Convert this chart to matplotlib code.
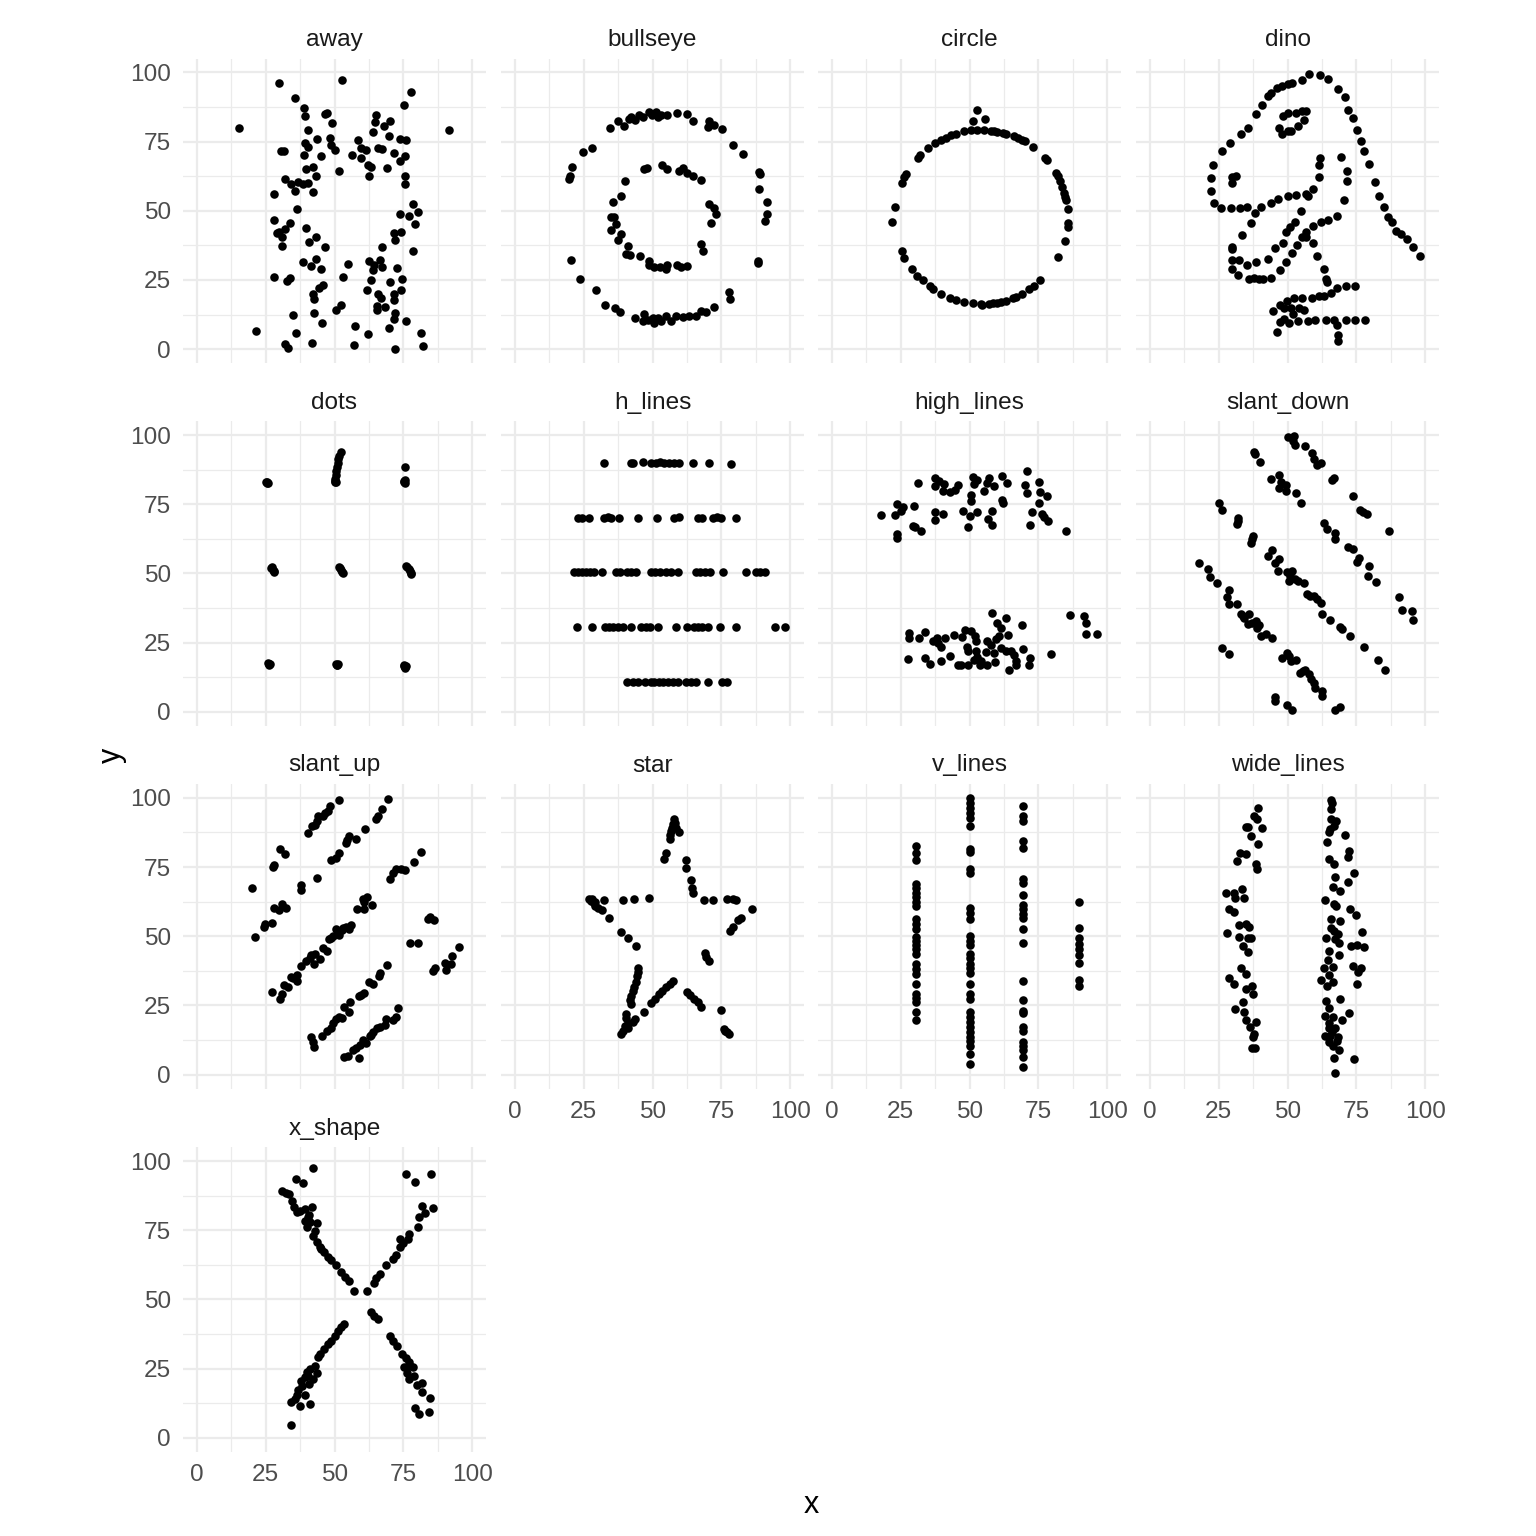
import matplotlib
matplotlib.use('Agg')
import matplotlib.pyplot as plt

plt.rcParams['font.family'] = ['Liberation Sans', 'DejaVu Sans']

panel_names = ['away', 'bullseye', 'circle', 'dino', 'dots', 'h_lines', 'high_lines',
               'slant_down', 'slant_up', 'star', 'v_lines', 'wide_lines', 'x_shape']
tick_values = [0, 25, 50, 75, 100]
tick_labels = ['0', '25', '50', '75', '100']
minor_values = [12.5, 37.5, 62.5, 87.5]

away_xy = [(29.8,96.3),(52.9,97.1),(77.8,92.9),(35.7,90.9),(75.1,88.3),(38.8,87.1),(39.3,84.3),(46.5,85.0),
    (47.2,85.3),(49.0,81.7),(64.9,84.5),(64.7,81.9),(70.0,82.5),(67.9,80.5),(15.4,79.9),(91.4,79.2),(40.3,79.1),
    (64.1,78.5),(69.7,77.0),(43.6,75.8),(48.4,76.4),(58.5,75.6),(73.6,75.8),(76.0,75.7),(39.4,74.6),(40.3,73.1),
    (48.7,73.7),(50.2,71.9),(30.7,71.5),(31.7,71.6),(59.5,72.8),(61.3,71.9),(65.8,72.5),(67.3,72.2),(38.8,70.3),
    (45.1,69.8),(56.3,70.3),(59.5,69.0),(71.5,70.9),(75.5,69.7),(73.9,67.9),(62.3,66.7),(63.1,65.9),(69.1,65.5),
    (42.1,65.9),(39.7,65.1),(51.8,64.4),(43.3,62.4),(62.5,62.4),(75.5,62.4),(75.7,59.5),(32.2,61.4),(34.3,59.5),
    (36.9,60.5),(38.5,59.5),(40.3,59.9),(35.5,57.1),(28.0,56.0),(42.3,56.6),(78.4,52.4),(36.3,50.5),(73.7,49.0),
    (76.9,48.2),(80.2,49.4),(79.2,45.2),(27.9,46.5),(34.0,45.7),(39.7,43.6),(32.0,43.4),(29.8,42.4),(29.1,41.8),
    (31.0,40.4),(71.5,41.8),(74.1,42.4),(72.1,39.4),(43.3,40.6),(40.6,38.6),(46.5,36.8),(30.8,37.3),(67.3,37.0),
    (78.5,35.5),(38.5,31.5),(43.3,32.7),(41.5,30.0),(45.2,29.1),(54.9,30.7),(62.7,31.9),(66.5,32.1),(64.3,30.4),
    (67.1,29.6),(64.1,28.5),(72.7,29.3),(27.9,26.0),(32.7,24.6),(34.0,25.6),(53.2,26.1),(63.3,25.1),(70.0,24.2),
    (74.6,25.4),(46.0,23.0),(44.5,22.0),(61.9,21.5),(65.9,19.8),(66.7,18.6),(71.5,20.1),(74.3,21.2),(42.1,19.8),
    (42.7,18.0),(71.6,17.7),(52.4,16.0),(50.6,14.1),(65.3,15.5),(65.3,14.1),(68.3,15.4),(71.9,13.0),(34.9,12.5),
    (42.7,12.9),(71.5,10.9),(76.1,10.3),(45.4,9.6),(57.3,8.2),(69.7,7.7),(21.6,6.6),(36.2,6.0),(62.1,5.6),
    (81.5,6.0),(41.8,2.4),(32.2,1.9),(33.2,0.4),(57.2,1.6),(71.9,0.0),(82.0,1.3)]

bullseye_xy = [(34.6,79.8),(37.5,82.3),(39.5,80.5),(41.5,83.3),(43.5,82.7),(45.1,84.7),(46.5,83.9),(48.6,85.5),
    (49.9,84.5),(51.3,85.7),(51.9,83.8),(53.1,84.7),(55.3,84.5),(58.8,85.3),(62.7,85.0),(64.6,82.3),(70.6,82.5),
    (70.0,80.3),(72.4,80.9),(75.1,79.7),(79.3,73.7),(82.9,70.4),(88.6,64.1),(88.8,57.7),(91.4,53.0),(91.6,49.0),
    (91.0,46.4),(88.2,31.0),(77.9,20.6),(78.1,18.2),(72.4,15.4),(69.4,13.3),(67.6,13.8),(65.8,11.8),(63.3,11.8),
    (61.2,11.5),(58.5,11.8),(56.7,10.0),(54.9,12.0),(53.1,10.0),(51.9,11.2),(50.1,11.2),(50.4,9.4),(48.3,10.6),
    (46.8,12.6),(46.5,10.3),(43.8,11.2),(38.2,13.3),(36.3,15.0),(32.9,16.0),(29.4,21.4),(23.6,25.2),(20.4,32.2),
    (19.7,61.4),(20.1,62.5),(20.9,65.9),(24.6,71.3),(28.0,72.7),(42.3,83.8),(88.4,31.8),(88.9,63.2),
    (46.8,65.0),(48.1,65.5),(53.5,66.5),(55.2,65.0),(59.7,64.4),(61.1,65.3),(62.7,63.7),(64.8,62.6),(67.6,61.1),
    (39.9,60.7),(38.7,55.5),(35.8,53.2),(70.6,52.3),(72.4,51.1),(73.2,48.7),(71.4,45.4),(34.9,47.7),(36.1,47.8),
    (36.7,45.2),(35.1,43.0),(38.5,41.6),(37.3,39.4),(67.6,38.1),(68.4,35.5),(41.1,37.3),(40.3,34.3),(41.7,34.0),
    (45.3,33.7),(48.6,31.9),(48.9,30.4),(50.7,29.5),(52.7,29.5),(54.9,29.0),(55.3,30.4),(58.9,30.4),(60.3,29.8),
    (62.5,30.2)]

circle_xy = [(52.6,86.3),(51.3,82.3),(55.7,83.3),(45.1,77.9),(48.1,78.7),(50.5,79.1),(52.9,79.3),(55.3,79.2),
    (57.7,78.9),(60.1,78.5),(63.1,77.9),(66.1,76.9),(69.1,75.7),(70.3,75.1),(73.0,73.0),(77.5,68.9),(78.1,68.3),
    (81.5,63.5),(82.1,62.6),(83.7,58.7),(84.4,56.3),(85.1,53.9),(85.7,50.6),(85.6,45.4),(85.6,44.2),(84.5,39.1),
    (82.1,33.2),(75.7,25.0),(73.3,22.8),(71.5,21.6),(69.1,20.1),(65.9,18.4),(63.1,17.5),(60.1,16.8),(57.1,16.3),
    (54.1,16.2),(51.1,16.5),(48.1,17.1),(45.1,17.8),(42.9,18.6),(39.7,19.8),(36.7,21.6),(35.5,22.8),(33.1,25.0),
    (31.0,26.6),(29.1,29.0),(26.4,33.1),(25.5,35.5),(22.0,46.0),(23.1,51.2),(25.5,60.1),(26.4,62.3),(27.0,63.1),
    (31.3,68.9),(32.2,70.1),(34.9,72.7),(37.5,74.3),(39.7,75.5),(41.5,76.3),(43.3,77.3),(82.9,60.8),(84.8,55.0),
    (62.0,78.2),(58.9,78.7),(67.5,76.3),(54.5,16.1),(58.6,16.5),(61.6,17.1),(66.8,18.9)]

dino_xy = [(55.3846,97.1795),(51.5385,96.0256),(46.1538,94.4872),(42.8205,91.4103),(40.7692,88.3333),
    (38.7179,84.8718),(35.641,79.8718),(33.0769,77.5641),(28.9744,74.4872),(26.1538,71.4103),(23.0769,66.4103),
    (22.3077,61.7949),(22.3077,57.1795),(23.3333,52.9487),(25.8974,51.0256),(29.4872,51.0256),(32.8205,51.0256),
    (35.3846,51.4103),(40.2564,51.4103),(44.1026,52.9487),(46.6667,54.1026),(50.0,55.2564),(53.0769,55.641),
    (56.6667,56.0256),(59.2308,57.9487),(61.2821,62.1795),(61.5385,66.4103),(61.7949,69.1026),(57.4359,55.2564),
    (54.8718,49.8718),(52.5641,46.0256),(48.2051,38.3333),(49.4872,42.1795),(51.0256,44.1026),(45.3846,36.4103),
    (42.8205,32.5641),(38.7179,31.4103),(35.1282,30.2564),(32.5641,32.1795),(30.0,36.7949),(33.5897,41.4103),
    (36.6667,45.641),(38.2051,49.1026),(29.7436,36.0256),(29.7436,32.1795),(30.0,29.1026),(32.0513,26.7949),
    (35.8974,25.2564),(41.0256,25.2564),(44.1026,25.641),(47.1795,28.718),(49.4872,31.4103),(51.5385,34.8718),
    (53.5897,37.5641),(55.1282,40.641),(56.6667,42.1795),(59.2308,44.4872),(62.3077,46.0256),(64.8718,46.7949),
    (67.9487,47.9487),(70.5128,53.718),(71.5385,60.641),(71.5385,64.4872),(69.4872,69.4872),(46.9231,79.8718),
    (48.2051,84.1026),(50.0,85.2564),(53.0769,85.2564),(55.3846,86.0256),(56.6667,86.0256),(56.1538,82.9487),
    (53.8462,80.641),(51.2821,78.718),(50.0,78.718),(47.9487,77.5641),(29.7436,59.8718),(29.7436,62.1795),
    (31.2821,62.5641),(57.9487,99.4872),(61.7949,99.1026),(64.8718,97.5641),(68.4615,94.1026),(70.7692,91.0256),
    (72.0513,86.4103),(73.8462,83.3333),(75.1282,79.1026),(76.6667,75.2564),(77.6923,71.4103),(79.7436,66.7949),
    (81.7949,60.2564),(83.3333,55.2564),(85.1282,51.4103),(86.4103,47.5641),(87.9487,46.0256),(89.4872,42.5641),
    (93.3333,39.8718),(95.3846,36.7949),(98.2051,33.718),(56.6667,40.641),(59.2308,38.3333),(60.7692,33.718),
    (63.0769,29.1026),(64.1026,25.2564),(64.359,24.1026),(74.359,22.9487),(71.2821,22.9487),(67.9487,22.1795),
    (65.8974,20.2564),(63.0769,19.1026),(61.2821,19.1026),(58.7179,18.3333),(55.1282,18.3333),(52.3077,18.3333),
    (49.7436,17.5641),(47.4359,16.0256),(44.8718,13.718),(48.7179,14.8718),(51.2821,14.8718),(54.1026,14.8718),
    (56.1538,14.1026),(52.0513,12.5641),(48.7179,11.0256),(47.1795,9.8718),(46.1538,6.0256),(50.5128,9.4872),
    (53.8462,10.2564),(57.4359,10.2564),(60.0,10.641),(64.1026,10.641),(66.9231,10.641),(71.2821,10.641),
    (74.359,10.641),(78.2051,10.641),(67.9487,8.718),(68.4615,5.2564),(68.2051,2.9487),(37.6923,25.7692),
    (39.4872,25.3846),(91.2821,41.5385),(50.0,95.7692),(47.9487,95.0),(44.1026,92.6923)]

dots_xy = [(25.4,82.9),(25.6,82.6),(25.3,83.1),(25.8,82.8),
    (50.0,83.3),(50.1,83.0),(50.2,84.2),(50.4,85.6),(50.6,87.0),(50.8,88.4),(51.1,89.8),(51.4,91.2),(51.8,92.6),
    (52.3,94.0),(50.6,83.1),
    (75.4,83.0),(75.5,83.6),(75.2,83.3),(75.7,88.3),(75.6,82.7),
    (27.0,51.9),(27.5,51.4),(27.9,50.8),(28.2,50.5),(27.3,52.2),
    (51.7,52.5),(52.1,51.8),(52.5,51.2),(52.9,50.5),(53.1,50.1),
    (75.9,52.6),(76.5,52.2),(77.1,51.5),(77.5,50.8),(77.8,50.2),(77.6,49.8),
    (25.9,17.5),(26.3,17.0),(26.1,17.2),(26.5,17.3),
    (50.6,17.3),(51.0,17.0),(50.8,16.8),(51.3,17.2),
    (75.3,16.9),(75.6,16.3),(75.5,15.8),(75.4,16.5),(75.8,16.7)]

h_lines_xy = [(32.3,90.0),(42.3,90.0),(42.9,89.8),(46.7,90.3),(49.5,89.9),(51.3,90.0),(52.9,90.1),(54.3,89.9),
    (56.1,90.0),(57.9,89.9),(59.7,90.0),(64.7,90.0),(70.6,89.9),(78.4,89.7),
    (22.8,70.2),(24.3,70.2),(26.9,70.1),(32.5,70.1),(33.9,70.3),(35.1,70.2),(37.7,70.2),(44.7,70.2),(51.7,70.2),
    (57.9,70.1),(59.7,70.3),(66.4,70.2),(67.8,70.1),(72.0,70.2),(73.3,70.3),(74.8,70.2),(80.2,70.2),
    (21.6,50.4),(22.8,50.4),(24.3,50.4),(25.7,50.4),(27.3,50.4),(28.8,50.4),(31.7,50.4),(36.9,50.4),(38.1,50.4),
    (40.7,50.4),(42.3,50.4),(44.1,50.4),(49.5,50.4),(51.0,50.4),(52.8,50.4),(54.9,50.4),(56.7,50.4),(59.4,50.4),
    (65.7,50.4),(67.3,50.4),(69.0,50.4),(70.7,50.4),(75.7,50.4),(84.1,50.4),(87.4,50.4),(88.9,50.4),(91.0,50.4),
    (22.6,30.5),(27.9,30.5),(32.9,30.5),(34.1,30.5),(35.7,30.5),(37.5,30.5),(39.3,30.5),(42.3,30.5),(45.9,30.5),
    (47.7,30.5),(49.2,30.5),(51.9,30.5),(58.5,30.5),(62.5,30.5),(64.9,30.5),(66.4,30.5),(67.8,30.5),(70.0,30.5),
    (74.4,30.5),(80.3,30.5),(94.6,30.5),(98.0,30.5),
    (40.9,10.7),(42.9,10.7),(44.9,10.7),(47.1,10.7),(49.3,10.7),(50.7,10.7),(52.2,10.7),(53.7,10.7),(55.5,10.7),
    (57.3,10.7),(59.1,10.7),(62.1,10.7),(63.9,10.7),(65.7,10.7),(70.0,10.7),(75.1,10.7),(77.2,10.7)]

high_lines_xy = [(70.9,87.0),(31.3,82.6),(37.3,84.5),(39.1,83.3),(40.9,82.3),(37.3,81.6),(40.3,79.7),(43.0,79.5),
    (44.7,80.3),(45.9,82.1),(51.1,84.7),(52.9,83.9),(51.7,82.3),(57.1,84.5),(56.5,82.7),(58.9,81.5),(61.7,85.3),
    (63.5,82.7),(55.3,79.7),(50.7,78.5),(50.7,76.1),(61.9,76.6),(62.1,75.5),(70.3,82.0),(70.9,78.9),(75.2,83.2),
    (75.7,79.3),(78.1,77.8),(75.4,75.4),(23.8,75.1),(25.8,74.1),(23.1,71.0),(25.0,72.5),(29.8,74.4),(18.0,71.2),
    (37.3,72.3),(40.3,71.5),(37.6,69.4),(47.5,72.6),(50.2,70.9),(52.9,72.2),(58.3,72.7),(56.7,69.8),(58.3,67.4),
    (49.3,66.7),(29.5,67.2),(30.1,66.7),(32.5,65.3),(23.8,64.3),(23.8,62.8),(72.7,72.1),(76.3,71.5),(76.9,70.3),
    (78.4,69.1),(72.1,67.6),(85.1,65.5),
    (58.3,35.7),(63.1,33.8),(59.9,32.2),(61.3,30.4),(68.9,31.3),(86.5,34.9),(91.7,34.6),(92.3,32.0),(92.2,28.1),
    (96.2,28.1),(28.2,28.5),(28.2,26.7),(31.6,26.7),(33.9,28.8),(36.7,25.5),(38.1,26.7),(38.7,24.9),(39.7,23.3),
    (41.2,26.7),(44.2,27.9),(47.1,26.9),(48.3,29.4),(50.7,29.3),(51.9,27.5),(52.5,25.7),(49.0,23.3),(49.5,21.9),
    (56.5,25.5),(57.7,24.3),(59.5,26.4),(60.7,27.3),(63.9,27.9),(61.3,23.2),(63.1,22.0),(64.9,22.0),(66.1,20.7),
    (69.4,22.8),(55.9,21.6),(52.3,22.1),(52.9,19.8),(51.7,18.8),(54.1,18.2),(56.3,17.1),(59.1,17.9),(58.9,21.3),
    (67.0,18.3),(66.7,17.1),(72.1,19.5),(71.5,17.1),(64.3,15.3),(45.9,17.1),(49.5,16.8),(53.7,16.8),(27.7,19.0),
    (33.7,19.6),(35.8,17.4),(39.7,18.4),(43.0,20.3),(79.7,20.9),(46.9,17.1)]

slant_down_xy = [(50.1,99.4),(52.5,99.6),(52.9,96.3),(56.3,96.0),(58.9,93.4),(59.5,91.3),(62.1,90.0),(60.7,89.2),
    (66.7,84.6),(66.1,83.8),(73.6,78.1),(76.3,73.0),(78.7,71.5),(86.8,65.5),(52.0,98.0),(77.5,72.2),
    (37.9,94.0),(39.9,90.4),(44.1,84.0),(46.9,85.6),(46.9,80.9),(49.3,82.1),(49.3,79.8),(53.2,79.0),(54.9,75.4),
    (63.1,68.4),(64.3,66.0),(67.1,64.5),(67.3,62.4),(71.8,59.4),(73.9,58.8),(76.0,55.5),(75.1,54.3),(79.7,52.8),
    (79.3,49.2),(82.3,46.9),(90.5,41.6),(91.4,36.9),(95.3,36.3),(95.6,33.3),(38.1,93.1),(47.8,83.0),
    (25.0,75.6),(26.1,73.0),(32.2,70.2),(31.6,67.9),(37.5,63.6),(36.9,60.9),(44.5,58.3),(43.0,56.3),(46.9,55.3),
    (45.3,53.7),(46.5,51.0),(49.9,50.7),(51.7,51.0),(50.5,47.1),(52.9,47.9),(55.9,46.5),(57.1,42.6),(59.5,41.8),
    (60.7,40.6),(62.3,39.5),(62.5,35.5),(65.3,33.1),(69.7,29.9),(72.7,27.3),(77.8,23.4),(82.7,18.6),(85.3,15.3),
    (32.0,69.0),(37.2,62.3),(51.0,49.2),(53.8,47.2),(58.3,42.0),(69.0,30.6),
    (18.0,53.7),(21.0,51.7),(22.0,48.8),(24.3,46.6),(28.6,43.9),(27.9,41.6),(28.6,39.1),(31.5,38.8),(33.1,35.5),
    (34.3,33.8),(36.1,35.2),(35.5,31.6),(38.5,32.8),(39.7,31.4),(40.3,27.4),(42.1,28.2),(44.5,26.8),(26.2,23.1),
    (28.6,20.8),(48.1,19.5),(49.9,21.3),(51.1,18.3),(53.1,18.9),(54.7,14.1),(56.5,15.3),(57.7,13.5),(59.5,10.5),
    (59.9,8.7),(62.5,7.7),(62.5,5.9),(45.4,5.3),(45.4,4.1),(49.9,2.3),(51.7,0.5),(67.1,0.8),(69.1,1.8),
    (37.0,32.0),(38.8,30.2),(50.5,20.0),(55.6,14.8),(58.5,11.9),(33.8,34.6)]

slant_up_xy = [(40.3,87.4),(41.7,89.9),(42.9,90.1),(44.0,93.3),(45.9,93.5),(47.7,95.3),(48.3,97.2),(51.6,99.4),
    (43.5,91.5),(46.6,94.5),
    (48.9,77.4),(50.5,78.4),(51.7,80.2),(54.0,83.8),(55.3,86.1),(57.9,85.0),(61.2,88.6),(65.2,92.4),(65.8,93.4),
    (67.3,95.8),(69.4,99.6),(54.6,84.9),
    (20.1,67.6),(27.6,75.1),(30.1,81.4),(32.1,79.6),(37.7,68.4),(37.7,66.7),(43.8,70.9),(21.3,49.9),(24.5,53.5),
    (27.3,54.7),(28.1,60.3),(29.7,59.5),(31.1,61.8),(32.5,60.3),(27.9,75.8),(24.9,54.5),
    (27.3,29.9),(30.1,27.5),(30.9,29.1),(31.5,32.5),(33.3,31.5),(34.1,35.1),(36.3,33.9),(36.5,35.9),(37.8,39.1),
    (41.1,42.3),(42.9,43.5),(42.7,40.1),(44.7,41.7),(45.9,45.9),(47.1,44.7),(48.1,48.9),(49.3,50.1),(50.5,52.5),
    (51.7,50.3),(52.6,52.4),(54.3,53.5),(55.9,53.9),(55.3,52.5),(58.3,60.0),(60.3,63.4),(61.9,64.3),(63.7,61.2),
    (60.7,59.8),(35.0,34.8),(41.6,43.3),(48.8,49.4),(53.2,52.8),(60.8,62.5),(39.5,41.0),
    (70.0,70.6),(71.2,72.7),(72.4,74.4),(74.0,74.2),(75.6,73.9),(78.7,76.8),(81.4,80.5),
    (77.5,47.4),(80.4,47.7),(83.8,56.4),(86.2,55.8),(85.8,37.5),(86.4,38.7),(90.4,37.7),(90.0,40.5),(92.2,39.9),
    (92.6,42.9),(95.2,46.2),(84.8,57.0),
    (41.3,13.5),(42.3,11.7),(42.7,10.1),(45.3,14.1),(47.1,15.9),(48.9,16.7),(49.5,18.8),(50.7,20.0),(52.9,20.3),
    (53.5,24.3),(55.3,22.8),(55.5,26.3),(58.8,28.5),(60.7,29.4),(62.5,33.3),(64.0,32.7),(66.0,35.7),(66.6,36.9),
    (69.0,39.7),(51.5,21.0),(59.5,28.9),
    (53.5,6.3),(54.9,6.9),(56.7,8.8),(58.8,5.9),(59.4,10.8),(60.4,12.6),(61.6,11.4),(62.8,13.8),(64.0,15.3),
    (65.4,16.7),(68.2,18.0),(68.8,20.1),(71.2,19.8),(72.4,20.7),(73.2,24.0),(57.8,9.5),(63.3,14.5),(66.5,17.2)]

star_xy = [(57.9,92.2),(57.6,90.4),(58.5,89.2),(56.8,88.0),(59.7,87.7),(56.4,86.4),(56.5,85.2),(54.9,80.2),
    (54.3,77.8),(62.1,77.4),(62.1,74.8),(63.9,70.2),(64.3,67.6),(64.8,65.7),(68.8,63.1),(72.0,63.1),(77.2,63.3),
    (79.3,63.3),(80.2,63.1),(86.2,59.7),(82.2,56.5),(81.0,55.8),(79.3,53.5),(78.1,51.9),(69.0,43.9),(70.6,41.1),
    (75.0,23.3),(75.9,16.5),(77.2,15.3),(77.8,14.7),(76.2,15.9),(58.2,91.0),(57.2,89.0),(69.6,42.5),
    (26.9,63.3),(28.1,63.6),(29.1,62.4),(29.3,61.0),(31.7,59.4),(32.3,63.0),(34.3,56.7),(39.3,63.1),(43.2,63.3),
    (48.9,63.7),(38.7,51.7),(41.1,49.3),(43.9,46.5),(27.5,62.8),(28.6,62.0),(30.2,60.2),
    (44.9,38.5),(44.3,35.7),(43.9,33.3),(42.9,30.3),(41.7,27.0),(42.1,25.7),(40.5,21.9),(40.2,20.3),(43.5,20.1),
    (42.9,18.9),(41.1,16.7),(39.3,15.9),(38.5,14.7),(46.9,22.5),(49.5,25.8),(52.5,29.3),(54.9,31.5),(57.6,33.9),
    (62.7,29.9),(64.9,27.5),(67.6,24.3),(66.4,26.3),(44.6,37.0),(43.4,31.8),(42.3,28.5),(41.0,18.5),(40.0,17.5),
    (50.8,27.5),(53.5,30.3),(56.2,32.6),(63.7,28.7)]

v_lines_xy = [(30.7,82.6),(30.7,80.2),(30.7,77.5),(30.7,68.8),(30.7,67.3),(30.7,65.5),(30.7,64.0),(30.7,62.5),
    (30.7,60.8),(30.7,56.1),(30.7,54.3),(30.7,52.5),(30.7,49.8),(30.7,48.3),(30.7,46.8),(30.7,45.3),(30.7,43.5),
    (30.7,39.9),(30.7,38.1),(30.7,36.3),(30.7,32.7),(30.7,29.3),(30.7,27.6),(30.7,26.1),(30.7,22.8),(30.7,19.8),
    (50.1,100.0),(50.1,98.2),(50.1,96.4),(50.1,94.6),(50.1,92.8),(50.1,90.0),(50.1,81.4),(50.1,80.4),(50.1,74.4),
    (50.1,72.7),(50.1,60.3),(50.1,58.5),(50.1,56.1),(50.1,50.1),(50.1,48.3),(50.1,46.7),(50.1,43.5),(50.1,42.3),
    (50.1,39.9),(50.1,38.4),(50.1,36.9),(50.1,32.7),(50.1,29.3),(50.1,27.3),(50.1,22.5),(50.1,20.7),(50.1,18.9),
    (50.1,17.1),(50.1,15.3),(50.1,13.5),(50.1,12.3),(50.1,10.5),(50.1,7.5),(50.1,3.8),
    (69.5,97.0),(69.5,93.4),(69.5,91.6),(69.5,84.4),(69.5,81.7),(69.5,70.8),(69.5,69.4),(69.5,64.8),(69.5,61.2),
    (69.5,60.0),(69.5,57.9),(69.5,56.7),(69.5,52.5),(69.5,47.4),(69.5,33.7),(69.5,27.0),(69.5,23.1),(69.5,22.2),
    (69.5,17.1),(69.5,15.9),(69.5,11.9),(69.5,10.5),(69.5,8.9),(69.5,6.3),(69.5,2.6),
    (89.6,62.4),(89.6,53.1),(89.6,49.2),(89.6,47.1),(89.6,45.3),(89.6,43.2),(89.6,40.5),(89.6,34.3),(89.6,32.1)]

wide_lines_xy = [(39.3,96.4),(37.9,93.4),(39.1,92.2),(34.9,89.4),(35.8,89.4),(40.9,89.2),(36.7,86.2),(39.3,83.4),
    (32.7,80.2),(34.9,79.6),(31.6,77.2),(38.7,76.0),(38.8,74.4),(27.6,65.7),(30.7,65.5),(33.4,67.0),(31.0,63.9),
    (34.3,63.9),(28.9,59.7),(30.7,58.8),(32.5,54.0),(34.9,54.3),(36.1,53.5),(28.0,51.0),(32.5,49.9),(36.7,49.5),
    (35.5,49.5),(33.7,46.5),(35.5,44.4),(33.3,38.7),(34.9,36.3),(28.6,34.9),(30.7,32.7),(37.0,32.1),(34.9,30.9),
    (37.6,29.3),(33.7,26.1),(30.9,23.7),(34.3,22.5),(34.9,19.8),(38.5,19.1),(36.3,17.1),(37.9,14.7),(37.3,13.5),
    (37.0,9.5),(38.1,9.6),
    (65.9,99.4),(66.1,98.2),(65.8,95.8),(65.8,92.2),(67.6,91.6),(66.7,89.8),(64.9,87.6),(65.5,88.8),(70.9,86.4),
    (64.3,84.0),(72.4,80.8),(71.9,78.7),(65.2,78.0),(67.0,76.2),(74.2,73.0),(67.3,71.5),(71.9,69.7),(66.5,67.8),
    (69.1,66.3),(63.7,63.1),(66.9,61.6),(67.5,60.9),(72.7,59.7),(74.9,57.6),(65.8,56.1),(69.1,55.5),(65.9,52.8),
    (66.7,51.9),(68.5,50.7),(76.9,51.6),(64.1,49.2),(67.3,48.9),(68.8,47.5),(73.1,46.5),(75.1,46.7),(77.9,46.2),
    (64.9,44.7),(68.8,43.2),(64.7,41.5),(63.4,38.5),(66.4,38.9),(73.6,39.3),(76.7,38.7),(75.7,37.1),(64.9,35.9),
    (62.1,34.1),(66.5,33.5),(75.4,32.9),(64.3,31.9),(64.1,26.7),(68.9,27.3),(64.9,23.9),(72.4,22.2),(63.7,21.2),
    (66.5,20.7),(69.7,19.7),(64.9,18.6),(67.3,16.7),(63.5,14.1),(65.5,14.1),(68.5,13.5),(64.9,11.7),(66.5,10.5),
    (68.8,8.9),(67.0,5.9),(74.2,5.6),(67.3,0.5),(66.0,15.5),(65.2,17.0),(67.8,12.0)]

x_shape_xy = [(42.1,97.6),(35.9,93.5),(38.5,91.9),(31.1,89.1),(33.5,88.1),(34.5,85.7),(35.3,83.3),(36.3,81.5),
    (39.3,82.5),(41.9,83.5),(40.3,79.7),(39.3,78.5),(41.1,77.9),(39.9,76.1),(43.8,77.5),(42.9,74.9),(42.3,73.1),
    (43.8,70.7),(44.7,69.1),(46.2,67.1),(47.5,65.3),(48.9,64.1),(50.5,62.3),(52.2,59.9),(53.9,58.1),(55.2,56.5),
    (56.9,53.2),(32.4,88.6),(37.5,82.0),(40.8,80.5),(45.0,68.2),
    (76.0,95.2),(79.2,92.4),(85.0,95.2),(81.7,83.8),(82.8,81.3),(85.6,82.9),(80.6,79.8),(80.2,76.3),(77.2,73.5),
    (76.6,71.8),(73.9,72.0),(73.9,68.8),(72.4,66.2),(71.2,64.7),(68.8,62.5),(66.4,59.1),(65.2,57.6),(64.2,56.1),
    (61.9,53.1),(74.8,70.3),
    (53.5,41.1),(52.5,39.9),(51.3,38.5),(50.0,36.9),(48.9,35.1),(47.7,33.9),(46.2,32.1),(44.9,30.3),(44.1,29.1),
    (42.9,25.8),(41.1,24.9),(39.9,23.7),(39.3,21.9),(42.3,21.3),(43.8,23.4),(40.9,19.4),(38.1,18.6),(36.9,17.2),
    (36.3,15.4),(39.3,15.4),(34.1,13.0),(37.5,11.5),(41.1,12.3),(34.3,4.7),(35.7,14.0),(38.0,20.5),(40.2,22.5),
    (63.3,45.3),(65.8,42.9),(70.0,36.7),(71.2,35.1),(72.7,33.3),(74.6,30.3),(76.0,28.8),(77.0,27.3),(75.4,25.5),
    (78.4,25.5),(76.3,23.5),(79.0,22.5),(77.2,21.2),(79.9,19.1),(81.9,19.8),(81.6,16.7),(84.6,14.3),(79.2,10.8),
    (80.8,8.7),(84.3,9.3),(64.5,44.0),(77.5,26.0)]

panel_data = [away_xy, bullseye_xy, circle_xy, dino_xy, dots_xy, h_lines_xy, high_lines_xy,
              slant_down_xy, slant_up_xy, star_xy, v_lines_xy, wide_lines_xy, x_shape_xy]

W = H = 1536.0
fig = plt.figure(figsize=(7.68, 7.68), dpi=200)
fig.patch.set_facecolor('white')

col_left = [183, 501, 818, 1136]
row_top = [58.5, 421.2, 784, 1147.2]
pw, ph = 303.0, 304.5

for i, (name, pts) in enumerate(zip(panel_names, panel_data)):
    r, c = divmod(i, 4)
    ax = fig.add_axes([col_left[c] / W, 1 - (row_top[r] + ph) / H, pw / W, ph / H])
    ax.set_xlim(-5, 105)
    ax.set_ylim(-5, 105)
    ax.set_xticks(tick_values)
    ax.set_yticks(tick_values)
    ax.set_xticklabels(tick_labels)
    ax.set_yticklabels(tick_labels)
    ax.set_xticks(minor_values, minor=True)
    ax.set_yticks(minor_values, minor=True)
    ax.grid(which='major', color='#EBEBEB', linewidth=0.8)
    ax.grid(which='minor', color='#EBEBEB', linewidth=0.45)
    ax.set_axisbelow(True)
    ax.set_facecolor('white')
    for s in ax.spines.values():
        s.set_visible(False)
    ax.tick_params(which='both', length=0)
    ax.tick_params(which='major', labelsize=8.8, labelcolor='#4D4D4D', pad=4.4)
    show_x = (r == 3) or (r == 2 and c > 0)
    show_y = (c == 0)
    ax.tick_params(labelbottom=show_x, labelleft=show_y)
    xs = [p[0] for p in pts]
    ys = [p[1] for p in pts]
    ax.scatter(xs, ys, s=9.5, c='black', linewidths=0, zorder=3)
    ax.text(0.5, 1 + 18.5 / ph, name, transform=ax.transAxes, ha='center', va='center',
            fontsize=8.8, color='#1A1A1A')

fig.text(811 / W, 1 - 1505 / H, 'x', ha='center', va='center', fontsize=11, color='black')
fig.text(112 / W, 1 - 755 / H, 'y', ha='center', va='center', rotation=90, fontsize=11, color='black')

fig.savefig('out.png', dpi=200, facecolor='white')
